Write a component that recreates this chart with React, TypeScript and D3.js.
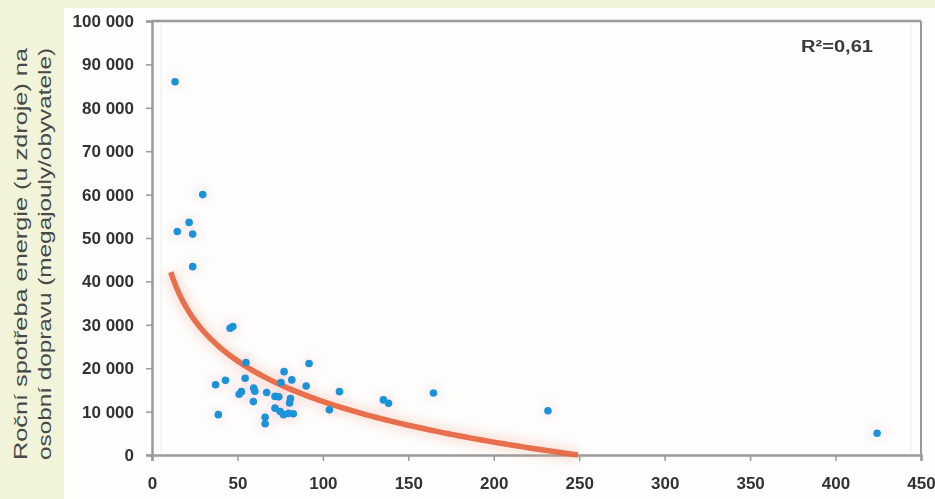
import React, { useEffect, useRef } from 'react';
import * as d3 from 'd3';

// passenger transport density vs. energy use per inhabitant
const densityX = [
  13.5, 29.7, 21.7, 14.8, 23.8, 23.8, 45.7, 47.3, 55, 91.9,
  77.3, 81.8, 75.5, 90.2, 43, 37.2, 54.5, 59.5, 60.2, 52.3,
  51, 67.1, 72, 74.2, 59.3, 81, 80.5, 72, 75, 77,
  80, 82.7, 66.2, 66.2, 38.8, 103.8, 109.7, 135.4, 138.4, 164.7,
  231.7, 424.3,
];
const energyY = [
  86000, 60000, 53600, 51500, 50900, 43400, 29200, 29600, 21300, 21100,
  19200, 17300, 16700, 15900, 17200, 16200, 17700, 15400, 14700, 14600,
  14000, 14400, 13500, 13400, 12300, 13000, 12000, 10800, 10000, 9300,
  9600, 9500, 8700, 7200, 9300, 10400, 14600, 12700, 11900, 14300,
  10200, 5000,
];
const xTicks = [0, 50, 100, 150, 200, 250, 300, 350, 400, 450];
const yTicks = [0, 10000, 20000, 30000, 40000, 50000, 60000, 70000, 80000, 90000, 100000];
const titleLines = ['Roční spotřeba energie (u zdroje) na', 'osobní dopravu (megajouly/obyvatele)'];
const rSquaredLabel = 'R²=0,61';
// logarithmic trend y = a + b·ln(x)
const trendA = 74500;
const trendB = -13500;
const trendStart = 11;

const W = 935;
const H = 499;
const plot = { left: 152, right: 921, top: 21, bottom: 455 };

const locale = d3.formatLocale({ decimal: ',', thousands: ' ', grouping: [3], currency: ['', ''] });
const fmt = locale.format(',');

export default function App() {
  const svgRef = useRef<SVGSVGElement>(null);

  useEffect(() => {
    const svg = d3.select(svgRef.current);
    svg.selectAll('*').remove();

    svg.append('rect').attr('width', W).attr('height', H).attr('fill', '#f1f4d8');
    svg.append('rect').attr('x', 64).attr('y', 8).attr('width', W - 64).attr('height', H - 8).attr('fill', '#fdfdfc');

    const x = d3.scaleLinear().domain([0, 450]).range([plot.left, plot.right]);
    const y = d3.scaleLinear().domain([0, 100000]).range([plot.bottom, plot.top]);

    const defs = svg.append('defs');
    defs.append('filter').attr('id', 'soft')
      .append('feGaussianBlur').attr('stdDeviation', 0.6);
    defs.append('filter').attr('id', 'glow').attr('x', '-20%').attr('y', '-20%').attr('width', '140%').attr('height', '140%')
      .append('feGaussianBlur').attr('stdDeviation', 4);

    // frame
    const frame = svg.append('g').attr('stroke', '#9a9a9a').attr('fill', 'none');
    frame.append('line').attr('x1', plot.left).attr('x2', plot.right).attr('y1', plot.top).attr('y2', plot.top).attr('stroke-width', 2.5);
    frame.append('line').attr('x1', plot.right).attr('x2', plot.right).attr('y1', plot.top).attr('y2', plot.bottom).attr('stroke-width', 2);
    frame.append('line').attr('x1', plot.left + 9).attr('x2', plot.left + 9).attr('y1', plot.top + 3).attr('y2', plot.bottom)
      .attr('stroke', '#ececec').attr('stroke-width', 1);
    frame.append('line').attr('x1', plot.right - 10).attr('x2', plot.right - 10).attr('y1', plot.top + 3).attr('y2', plot.bottom)
      .attr('stroke', '#ececec').attr('stroke-width', 1);

    // axes
    const yAxis = d3.axisLeft(y).tickValues(yTicks).tickSize(6).tickPadding(8).tickFormat((d) => fmt(+d));
    const xAxis = d3.axisBottom(x).tickValues(xTicks).tickSize(6).tickPadding(8).tickFormat((d) => String(d));

    const gy = svg.append('g').attr('transform', `translate(${plot.left},0)`).call(yAxis);
    const gx = svg.append('g').attr('transform', `translate(0,${plot.bottom})`).call(xAxis);
    [gx, gy].forEach((g) => {
      g.select('.domain').attr('stroke', '#9a9a9a').attr('stroke-width', 2.5);
      g.selectAll('.tick line').attr('stroke', '#9a9a9a').attr('stroke-width', 1.5);
      g.selectAll('.tick text')
        .attr('fill', '#333')
        .attr('font-family', '"Liberation Sans", Arial, sans-serif')
        .attr('font-size', 17)
        .attr('font-weight', 'bold')
        .attr('filter', 'url(#soft)');
    });
    gx.selectAll('.tick text').attr('dy', '1.15em');
    gy.selectAll('.tick text').attr('dx', '-4');

    // trend curve
    const xEnd = Math.min(450, Math.exp(-trendA / trendB));
    const trendXs = d3.ticks(trendStart, xEnd, 120).concat([xEnd]);
    trendXs.unshift(trendStart);
    const line = d3.line<number>().x((d) => x(d)).y((d) => y(Math.max(0, trendA + trendB * Math.log(d))));

    svg.append('path').attr('d', line(trendXs)).attr('fill', 'none').attr('stroke', '#f4a58c')
      .attr('stroke-width', 16).attr('opacity', 0.25).attr('filter', 'url(#glow)');

    // point halos
    svg.append('g').selectAll('circle').data(densityX).join('circle')
      .attr('cx', (d) => x(d)).attr('cy', (_, i) => y(energyY[i])).attr('r', 9)
      .attr('fill', '#f7c4d0').attr('opacity', 0.18).attr('filter', 'url(#glow)');

    svg.append('path').attr('d', line(trendXs)).attr('fill', 'none').attr('stroke', '#e6643c')
      .attr('stroke-width', 5.5).attr('opacity', 0.9).attr('filter', 'url(#soft)');

    svg.append('g').selectAll('circle').data(densityX).join('circle')
      .attr('cx', (d) => x(d)).attr('cy', (_, i) => y(energyY[i])).attr('r', 3.8)
      .attr('fill', '#1b93d8').attr('filter', 'url(#soft)');

    svg.append('text').attr('x', 801).attr('y', 52)
      .attr('textLength', 72).attr('lengthAdjust', 'spacingAndGlyphs')
      .attr('font-family', '"Liberation Sans", Arial, sans-serif').attr('font-size', 16).attr('font-weight', 'bold')
      .attr('fill', '#3a3a3a').attr('filter', 'url(#soft)').text(rSquaredLabel);

    // vertical title, stretched along its length to fill the panel height
    const titleLen = 412;
    const cy = 254;
    titleLines.forEach((t, i) => {
      svg.append('text')
        .attr('transform', `translate(${26.5 + i * 24.5},${cy}) rotate(-90)`)
        .attr('x', -titleLen / 2)
        .attr('textLength', titleLen)
        .attr('lengthAdjust', 'spacingAndGlyphs')
        .attr('font-family', '"Liberation Sans", Arial, sans-serif')
        .attr('font-size', 18.5)
        .attr('fill', '#484848')
        .text(t);
    });
  }, []);

  return (
    <svg ref={svgRef} width={W} height={H} style={{ position: 'fixed', left: 0, top: 0, display: 'block' }} />
  );
}
